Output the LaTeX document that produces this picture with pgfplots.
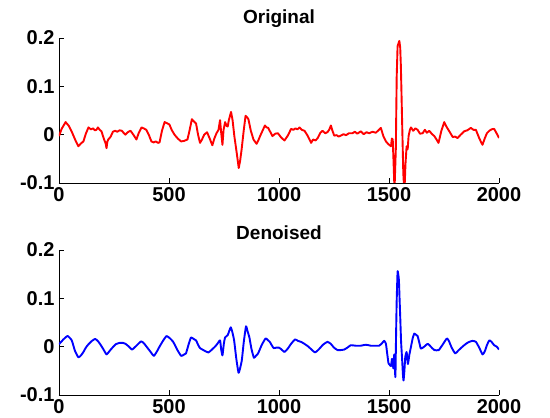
\documentclass[border=0pt]{standalone}
\usepackage{pgfplots}
\pgfplotsset{compat=1.18}
\usepackage{fontspec}
\setmainfont{Liberation Sans}

\pgfplotsset{
  sigaxis/.style={
    scale only axis, width=440pt, height=145pt, anchor=south west,
    xmin=0, xmax=2000, ymin=-0.1, ymax=0.2,
    axis x line=bottom, axis y line=left,
    axis line style={-, line width=0.7pt},
    xtick={0,500,1000,1500,2000},
    ytick={-0.1,0,0.1,0.2},
    yticklabels={-0.1,0,0.1,0.2},
    /pgf/number format/1000 sep={},
    tick align=inside, major tick length=5pt,
    tick style={black, line width=0.7pt},
    /pgf/number format/assume math mode=true,
    tick label style={font=\bfseries\fontsize{20}{20}\selectfont},
    xticklabel style={yshift=-1pt},
    yticklabel style={xshift=-1pt},
    title style={font=\bfseries\fontsize{19}{19}\selectfont, at={(0.5,1)}, anchor=south, yshift=3pt, inner sep=1pt},
    clip=true,
  }
}

\begin{document}
\begin{tikzpicture}
\path[use as bounding box] (0,0) rectangle (550pt,418pt);

\begin{axis}[sigaxis, at={(59pt,235pt)}, title={Original}]
\addplot[red, line width=1.9pt, line join=round] coordinates {
(0,-0.003) (12,0.012) (30,0.026) (45,0.018) (60,0.004) (75,-0.012) (88,-0.024) (100,-0.018)
(111,-0.014) (122,0.002) (134,0.015) (145,0.011) (155,0.013) (163,0.009) (170,0.010) (177,0.015)
(185,0.010) (193,0.007) (205,-0.010) (212,-0.018) (216,-0.028) (220,-0.014) (224,-0.010)
(235,-0.004) (245,0.006) (255,0.008) (265,0.006) (275,0.009) (286,0.008) (295,0.003) (302,0)
(312,0.005) (325,0.008) (338,0.000) (352,-0.010) (362,0.003) (375,0.015) (385,0.013) (397,0.010)
(408,0.000) (420,-0.014) (430,-0.016) (440,-0.014) (450,-0.017) (457,-0.016) (468,0.008) (480,0.026)
(490,0.024) (502,0.021) (512,0.010) (525,0.000) (540,-0.008) (555,-0.014) (568,-0.013) (584,-0.010)
(594,0.010) (604,0.032) (612,0.028) (623,0.023) (632,0.000) (641,-0.017) (650,-0.010) (660,0.000)
(673,0.005) (685,-0.008) (697,-0.022) (706,-0.008) (716,0.003) (725,0.010) (732,0.030) (737,0.005)
(743,-0.021) (748,0.010) (755,0.026) (762,0.018) (767,0.017) (772,0.030) (782,0.047) (789,0.030)
(797,-0.003) (807,-0.035) (817,-0.069) (823,-0.055) (830,-0.031) (840,0.010) (848,0.039) (855,0.036)
(861,0.032) (872,0.008) (884,-0.010) (898,-0.019) (906,-0.012) (914,-0.003) (925,0.008) (936,0.019)
(944,0.015) (951,0.014) (960,0.006) (970,-0.003) (983,0.002) (995,0.003) (1010,-0.006) (1025,-0.012)
(1040,-0.002) (1055,0.012) (1065,0.010) (1075,0.013) (1084,0.011) (1093,0.015) (1104,0.010) (1116,0.008)
(1130,-0.002) (1146,-0.017) (1155,-0.010) (1166,-0.012) (1176,-0.007) (1188,0.004) (1198,0.008)
(1210,0.003) (1220,0.005) (1228,0.010) (1236,0.019) (1243,0.008) (1251,-0.002) (1262,-0.001)
(1271,-0.004) (1281,-0.002) (1293,0.001) (1305,-0.001) (1318,0.003) (1334,0.003) (1345,0.006)
(1356,0.002) (1372,0.007) (1385,0.001) (1398,0.005) (1410,0.003) (1425,0.006) (1440,0.004)
(1452,0.009) (1463,0.014) (1475,-0.004) (1486,-0.014) (1498,-0.020) (1509,-0.024) (1513,-0.008)
(1517,-0.010) (1521,-0.060) (1525,-0.115) (1531,-0.030) (1535,0.120) (1539,0.183) (1547,0.194)
(1551,0.180) (1554,0.142) (1560,0.020) (1565,-0.080) (1570,-0.120) (1575,-0.060) (1580,-0.024)
(1585,-0.030) (1589,-0.003) (1595,0.010) (1600,0.015) (1610,0.008) (1620,0.013) (1630,0.010)
(1641,0.002) (1653,0.003) (1663,0.010) (1672,0.004) (1683,0.008) (1694,0.002) (1706,-0.003)
(1716,-0.010) (1725,-0.017) (1738,0.008) (1751,0.026) (1762,0.016) (1774,0.007) (1790,-0.005)
(1800,-0.004) (1812,-0.007) (1826,0.000) (1842,0.007) (1856,0.009) (1872,0.014) (1884,0.010)
(1895,0.010) (1908,-0.005) (1918,-0.015) (1925,-0.021) (1935,-0.008) (1945,0.003) (1956,0.008)
(1966,0.011) (1978,0.012) (1990,0.002) (2000,-0.007)
};
\end{axis}

\begin{axis}[sigaxis, at={(59pt,23pt)}, title={Denoised}]
\addplot[blue, line width=1.9pt, line join=round, smooth, tension=0.3] coordinates {
(0,0.005) (20,0.015) (39,0.022) (58,0.013) (72,-0.008) (88,-0.022) (100,-0.018) (111,-0.011)
(122,-0.002) (134,0.005) (150,0.012) (164,0.016) (176,0.012) (186,0.006) (200,-0.004) (216,-0.016)
(228,-0.010) (239,-0.004) (258,0.005) (277,0.008) (290,0.008) (302,0.006) (318,0.000) (332,-0.006)
(352,0.002) (373,0.011) (386,0.007) (398,0.000) (415,-0.010) (431,-0.019) (445,-0.010) (458,0.001)
(474,0.013) (489,0.022) (505,0.017) (519,0.010) (537,-0.006) (555,-0.019) (566,-0.017) (577,-0.014)
(590,0.006) (600,0.019) (612,0.016) (623,0.013) (632,0.004) (641,-0.003) (660,-0.008) (679,-0.012)
(695,-0.006) (709,0.000) (720,0.006) (732,0.013) (737,-0.005) (743,-0.018) (749,0.005) (755,0.019)
(767,0.024) (775,0.034) (781,0.040) (788,0.030) (796,0.013) (806,-0.025) (816,-0.054) (823,-0.045)
(831,-0.028) (840,0.010) (850,0.042) (857,0.032) (865,0.020) (875,-0.005) (886,-0.023) (895,-0.019)
(905,-0.014) (922,0.004) (939,0.017) (948,0.014) (958,0.010) (967,0.003) (976,-0.003) (988,-0.002)
(1000,-0.002) (1012,-0.006) (1025,-0.011) (1040,-0.004) (1055,0.006) (1073,0.015) (1086,0.012)
(1100,0.010) (1115,0.006) (1131,0.001) (1148,-0.006) (1164,-0.012) (1180,-0.006) (1200,0.004)
(1220,0.010) (1235,0.006) (1250,-0.002) (1266,-0.007) (1281,-0.007) (1296,-0.006) (1311,-0.002)
(1326,0.003) (1348,0.002) (1372,0.002) (1395,0.004) (1417,0.002) (1436,0.002) (1455,0.002)
(1468,0.007) (1478,0.012) (1486,0.006) (1492,-0.015) (1498,-0.035) (1504,-0.038) (1509,-0.040)
(1514,-0.025) (1520,-0.045) (1524,-0.016) (1529,-0.063) (1532,0.020) (1535,0.096) (1539,0.155)
(1542,0.150) (1545,0.138) (1548,0.100) (1551,0.062) (1555,0.010) (1559,-0.021) (1563,-0.055)
(1566,-0.070) (1570,-0.050) (1574,-0.021) (1580,-0.011) (1583,-0.025) (1586,-0.036) (1590,-0.025)
(1592,-0.018) (1600,0.000) (1608,0.018) (1615,0.027) (1622,0.025) (1630,0.022) (1638,0.008)
(1645,-0.004) (1660,0.000) (1676,0.006) (1690,0.000) (1706,-0.007) (1726,-0.007) (1745,0.005)
(1763,0.017) (1772,0.012) (1785,-0.002) (1801,-0.014) (1815,-0.008) (1834,0.000) (1850,0.006)
(1865,0.010) (1880,0.012) (1895,0.010) (1910,-0.002) (1925,-0.016) (1935,-0.010) (1945,0.003)
(1956,0.013) (1966,0.010) (1978,0.003) (1990,0.000) (2000,-0.006)
};
\end{axis}
\end{tikzpicture}
\end{document}
